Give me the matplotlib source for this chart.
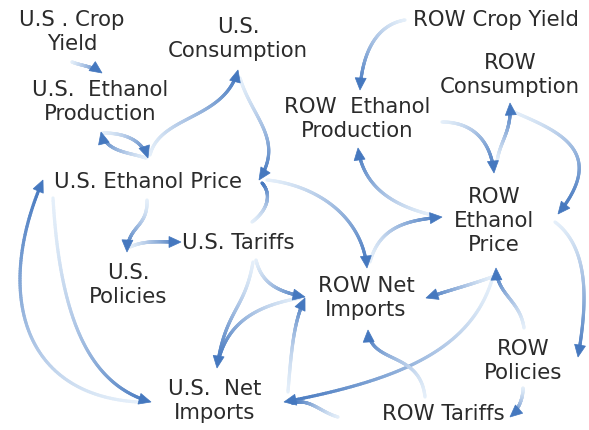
import numpy as np
import matplotlib
matplotlib.use("Agg")
import matplotlib.pyplot as plt
from matplotlib.collections import LineCollection
from matplotlib.patches import Polygon

# ------------------------------------------------
# data: nodes and causal links
# ------------------------------------------------
node_keys = ["us_crop", "us_cons", "us_prod", "us_price", "us_tariff", "us_policy", "us_net",
             "row_crop", "row_cons", "row_prod", "row_price", "row_net", "row_policy", "row_tariff"]
node_labels = ["U.S . Crop\nYield", "U.S.\nConsumption", "U.S.  Ethanol\nProduction",
               "U.S. Ethanol Price", "U.S. Tariffs", "U.S.\nPolicies", "U.S.  Net\nImports",
               "ROW Crop Yield", "ROW\nConsumption", "ROW  Ethanol\nProduction",
               "ROW\nEthanol\nPrice", "ROW Net\nImports", "ROW\nPolicies", "ROW Tariffs"]

edge_from = ["us_crop", "us_prod", "us_price", "us_price", "us_cons", "us_tariff", "us_price",
             "row_net", "row_price", "row_crop", "row_prod", "row_price", "row_cons", "row_price",
             "row_policy", "row_price", "row_price", "row_tariff", "row_tariff", "row_policy",
             "us_net", "us_tariff", "us_tariff", "row_net", "us_price", "us_policy", "us_price",
             "us_net"]
edge_to = ["us_prod", "us_price", "us_prod", "us_cons", "us_price", "us_price", "row_net",
           "row_price", "row_prod", "row_prod", "row_price", "row_cons", "row_price", "row_policy",
           "row_price", "row_net", "us_net", "row_net", "us_net", "row_tariff",
           "row_net", "row_net", "us_net", "us_net", "us_policy", "us_tariff", "us_net",
           "us_price"]

# ------------------------------------------------
# layout (pixel coordinates of the 589x430 canvas)
# ------------------------------------------------
node_pos = {
    "us_crop": (72, 32), "us_cons": (238, 39), "us_prod": (100, 102), "us_price": (148, 182),
    "us_tariff": (238, 243), "us_policy": (128, 285), "us_net": (215, 401),
    "row_crop": (496, 20), "row_cons": (510, 75), "row_prod": (357, 119),
    "row_price": (494, 221), "row_net": (366, 298), "row_policy": (523, 361),
    "row_tariff": (443, 414),
}

# cubic bezier control points for each link, plus whether it has its own head
edge_path = [
    [(72, 62), (82, 66), (92, 66), (102, 73), True],
    [(103, 133), (125, 133), (142, 140), (148, 158), True],
    [(146, 158), (128, 152), (106, 152), (101, 132), True],
    [(150, 155), (160, 115), (225, 120), (238, 70), True],
    [(240, 78), (252, 118), (285, 140), (259, 180), True],
    [(252, 222), (268, 210), (272, 194), (262, 183), False],
    [(267, 180), (315, 185), (362, 215), (367, 268), True],
    [(370, 262), (380, 225), (410, 220), (442, 217), True],
    [(432, 215), (390, 205), (363, 185), (358, 148), True],
    [(405, 20), (375, 25), (362, 55), (360, 90), True],
    [(442, 122), (472, 122), (491, 140), (494, 173), True],
    [(497, 162), (500, 140), (512, 132), (510, 103), True],
    [(514, 112), (555, 130), (610, 150), (558, 214), True],
    [(555, 222), (592, 250), (586, 310), (578, 357), True],
    [(524, 328), (520, 300), (497, 295), (496, 268), True],
    [(492, 277), (470, 285), (450, 290), (426, 298), True],
    [(492, 280), (470, 350), (400, 380), (284, 402), True],
    [(425, 397), (420, 350), (370, 365), (368, 330), True],
    [(338, 417), (320, 412), (310, 398), (292, 403), False],
    [(523, 388), (523, 400), (518, 410), (510, 417), True],
    [(288, 392), (292, 340), (295, 320), (305, 298), True],
    [(256, 260), (262, 285), (280, 292), (305, 297), True],
    [(253, 262), (245, 310), (225, 310), (217, 368), True],
    [(300, 298), (260, 305), (228, 320), (218, 362), False],
    [(147, 200), (148, 228), (128, 225), (127, 252), True],
    [(130, 247), (145, 240), (160, 242), (181, 242), True],
    [(53, 198), (60, 320), (90, 385), (151, 402), True],
    [(138, 402), (20, 395), (-5, 290), (43, 180), True],
]

light = np.array([0.90, 0.94, 0.98])
dark = np.array([0.27, 0.47, 0.75])
head_len = 12
head_w = 5.5


def bezier(p, t):
    p0, p1, p2, p3 = [np.array(q, dtype=float) for q in p]
    t = t[:, None]
    return ((1 - t) ** 3) * p0 + 3 * ((1 - t) ** 2) * t * p1 + 3 * (1 - t) * t ** 2 * p2 + t ** 3 * p3


def draw_link(ax, ctrl, head):
    t = np.linspace(0, 1, 120)
    pts = bezier(ctrl, t)
    end = np.array(ctrl[3], dtype=float)
    d = end - np.array(ctrl[2], dtype=float)
    d = d / np.linalg.norm(d)
    if head:
        keep = np.linalg.norm(pts - end, axis=1) > head_len * 0.6
        pts = pts[keep]
        t = t[keep]
    segs = np.stack([pts[:-1], pts[1:]], axis=1)
    tt = ((t[:-1] + t[1:]) / 2) ** 1.3
    cols = light[None, :] * (1 - tt[:, None]) + dark[None, :] * tt[:, None]
    lc = LineCollection(segs, colors=cols, linewidths=2.3, capstyle="round", zorder=1)
    ax.add_collection(lc)
    if head:
        n = np.array([-d[1], d[0]])
        base = end - d * head_len
        tri = [end, base + n * head_w, base - n * head_w]
        ax.add_patch(Polygon(tri, closed=True, facecolor=dark, edgecolor=dark, lw=0.5, zorder=2))


fig = plt.figure(figsize=(5.89, 4.30), dpi=100)
ax = fig.add_axes([0, 0, 1, 1])
ax.set_xlim(0, 589)
ax.set_ylim(430, 0)
ax.axis("off")

for ctrl in edge_path:
    draw_link(ax, ctrl[:4], ctrl[4])

for key, lab in zip(node_keys, node_labels):
    x, y = node_pos[key]
    ax.text(x, y, lab, ha="center", va="center", fontsize=15.3, color="#2b2b2b",
            family="DejaVu Sans", linespacing=1.28, zorder=3)

fig.savefig("out.png", dpi=100)
